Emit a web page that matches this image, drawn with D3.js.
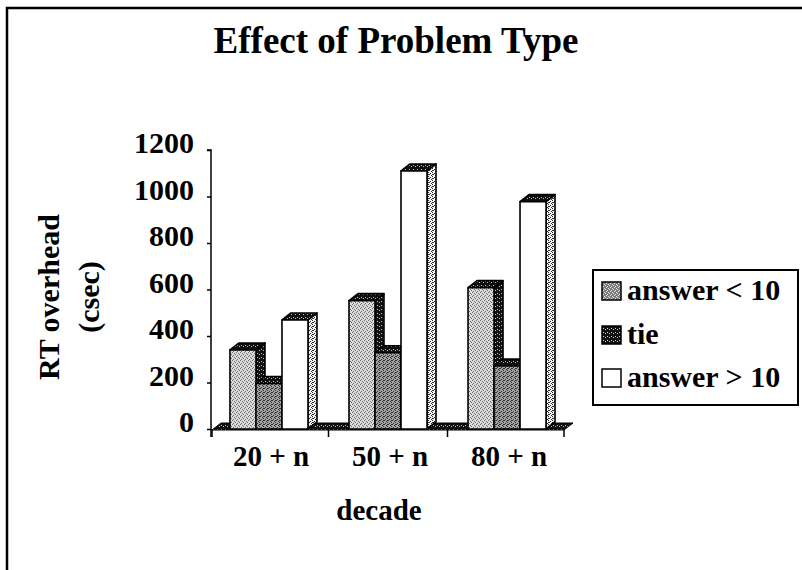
<!DOCTYPE html>
<html>
<head>
<meta charset="utf-8">
<script src="https://cdn.jsdelivr.net/npm/d3@7"></script>
<style>
  html, body { margin: 0; padding: 0; background: #fff; }
  svg { display: block; }
  text { font-family: "Liberation Serif", "Times New Roman", serif; font-weight: bold; fill: #000; }
</style>
</head>
<body>
<svg id="chart" width="802" height="570"></svg>
<script>
// Decades (x categories)
const decades = ["20+n", "50+n", "80+n"];
const decadeLabels = ["20 + n", "50 + n", "80 + n"];
// Problem types (series)
const seriesNames = ["answer < 10", "tie", "answer > 10"];
// RT overhead (csec) per decade, one array per problem type
const answerSmall = [340, 552, 608];
const tieValues   = [196, 328, 271];
const answerLarge = [469, 1110, 978];
const yTicks = [0, 200, 400, 600, 800, 1000, 1200];

const seriesValues = [answerSmall, tieValues, answerLarge];

const svg = d3.select("#chart");

// ---- halftone-like fills -------------------------------------------------
const defs = svg.append("defs");
function pattern(id, size, bg, dots, dotColor) {
  const p = defs.append("pattern").attr("id", id)
    .attr("patternUnits", "userSpaceOnUse").attr("width", size).attr("height", size);
  p.append("rect").attr("width", size).attr("height", size).attr("fill", bg);
  dots.forEach(([dx, dy]) => p.append("rect").attr("x", dx).attr("y", dy)
    .attr("width", 1).attr("height", 1).attr("fill", dotColor));
}
const stipple = [[0, 0], [2, 1], [1, 3], [3, 2]];
pattern("frontLight", 4, "#dcdcdc", stipple, "#6a6a6a");
pattern("frontTie", 4, "#a4a4a4", [...stipple, [3, 0]], "#2e2e2e");
pattern("darkSpeck", 4, "#111", [[1, 1], [3, 2]], "#bdbdbd");
pattern("sideGray", 4, "#f2f2f2", [[0, 0], [2, 1], [1, 2], [3, 3], [0, 2]], "#2a2a2a");
pattern("swatchLight", 4, "#7c7c7c", stipple, "#e8e8e8");
pattern("swatchTie", 4, "#111", [[1, 1], [3, 2]], "#d0d0d0");

const frontFill = ["url(#frontLight)", "url(#frontTie)", "#fff"];
const sideFill  = ["url(#darkSpeck)", "url(#darkSpeck)", "url(#sideGray)"];
const topFill   = ["url(#darkSpeck)", "url(#darkSpeck)", "url(#darkSpeck)"];
const swatchFill = ["url(#swatchLight)", "url(#swatchTie)", "#fff"];

// ---- outer frame ---------------------------------------------------------
svg.append("path")
  .attr("d", "M7,570 V8 H802")
  .attr("fill", "none").attr("stroke", "#000").attr("stroke-width", 2.5);

// ---- scales --------------------------------------------------------------
const y = d3.scaleLinear().domain([0, 1200]).range([429, 150]);
const x0 = d3.scaleBand().domain(decades).range([212, 564])
  .paddingInner(0.3445).paddingOuter(0.151);
const x1 = d3.scaleBand().domain(seriesNames).range([0, x0.bandwidth()]);

// oblique depth of the 3-D columns
const DX = 9, DY = -7;

// ---- floor ---------------------------------------------------------------
const fx0 = 212, fx1 = 564, fy = y(0) + 1;
svg.append("path")
  .attr("d", `M${fx0},${fy} L${fx1},${fy} L${fx1 + DX},${fy + DY} L${fx0 + DX},${fy + DY} Z`)
  .attr("fill", "url(#darkSpeck)").attr("stroke", "#000").attr("stroke-width", 1);

// ---- columns -------------------------------------------------------------
const bars = [];
decades.forEach((d, i) => {
  seriesNames.forEach((s, j) => {
    bars.push({ decade: d, series: s, j, value: seriesValues[j][i] });
  });
});

const g = svg.append("g").attr("stroke", "#000").attr("stroke-width", 1.6)
  .attr("stroke-linejoin", "round");
const barG = g.selectAll("g.bar").data(bars).join("g").attr("class", "bar");

barG.each(function (b) {
  const el = d3.select(this);
  const xl = x0(b.decade) + x1(b.series);
  const xr = xl + x1.bandwidth();
  const yt = y(b.value), yb = y(0);
  // right side face
  el.append("path")
    .attr("d", `M${xr},${yb} L${xr},${yt} L${xr + DX},${yt + DY} L${xr + DX},${yb + DY} Z`)
    .attr("fill", sideFill[b.j]);
  // top face
  el.append("path")
    .attr("d", `M${xl},${yt} L${xr},${yt} L${xr + DX},${yt + DY} L${xl + DX},${yt + DY} Z`)
    .attr("fill", topFill[b.j]);
  // front face
  el.append("rect")
    .attr("x", xl).attr("y", yt).attr("width", xr - xl).attr("height", yb - yt)
    .attr("fill", frontFill[b.j]);
});

// ---- y axis --------------------------------------------------------------
const yAxis = svg.append("g").attr("transform", "translate(211,0)")
  .call(d3.axisLeft(y).tickValues(yTicks).tickSize(4).tickFormat(d3.format("d")));
yAxis.select(".domain").attr("stroke", "#000").attr("stroke-width", 1.5)
  .attr("d", `M-4,${y(1200)}H0V${y(0) + 8}`);
yAxis.selectAll(".tick line").attr("stroke", "#000").attr("stroke-width", 1.5);
yAxis.selectAll(".tick text")
  .attr("x", -17).attr("dy", "0.32em")
  .attr("transform", `translate(0,${DY})`)
  .style("font-family", "Liberation Serif, serif").style("font-weight", "bold")
  .style("font-size", "30px").attr("fill", "#000");

// ---- x axis ticks (group boundaries) and labels --------------------------
const step = x0.step();
const bounds = [212, ...decades.slice(1).map(d => x0(d) - (step - x0.bandwidth()) / 2), 564];
svg.append("g").selectAll("line").data(bounds).join("line")
  .attr("x1", d => d).attr("x2", d => d)
  .attr("y1", y(0)).attr("y2", y(0) + 8)
  .attr("stroke", "#000").attr("stroke-width", 1.5);

svg.append("g").selectAll("text").data(decades).join("text")
  .attr("x", d => x0(d) + x0.bandwidth() / 2 + 2)
  .attr("y", 466)
  .attr("text-anchor", "middle")
  .style("font-size", "29px")
  .text((d, i) => decadeLabels[i]);

// ---- titles --------------------------------------------------------------
svg.append("text").attr("x", 396).attr("y", 53).attr("text-anchor", "middle")
  .style("font-size", "37px").text("Effect of Problem Type");

svg.append("text").attr("x", 379).attr("y", 520).attr("text-anchor", "middle")
  .style("font-size", "29px").text("decade");

svg.append("text").attr("transform", "translate(59,297) rotate(-90)")
  .attr("text-anchor", "middle").style("font-size", "30px").text("RT overhead");
svg.append("text").attr("transform", "translate(99,297) rotate(-90)")
  .attr("text-anchor", "middle").style("font-size", "30px").text("(csec)");

// ---- legend --------------------------------------------------------------
const lg = svg.append("g");
lg.append("rect").attr("x", 593).attr("y", 270).attr("width", 205).attr("height", 135)
  .attr("fill", "#fff").attr("stroke", "#000").attr("stroke-width", 2);
const legendRows = [291, 335, 378];
const items = lg.selectAll("g.item").data(seriesNames).join("g").attr("class", "item")
  .attr("transform", (d, i) => `translate(602,${legendRows[i]})`);
items.append("rect").attr("x", 0).attr("y", -9).attr("width", 19).attr("height", 18)
  .attr("fill", (d, i) => swatchFill[i]).attr("stroke", "#000").attr("stroke-width", 1.5);
items.append("text").attr("x", 25).attr("y", 9).style("font-size", "30px")
  .text(d => d);
</script>
</body>
</html>
